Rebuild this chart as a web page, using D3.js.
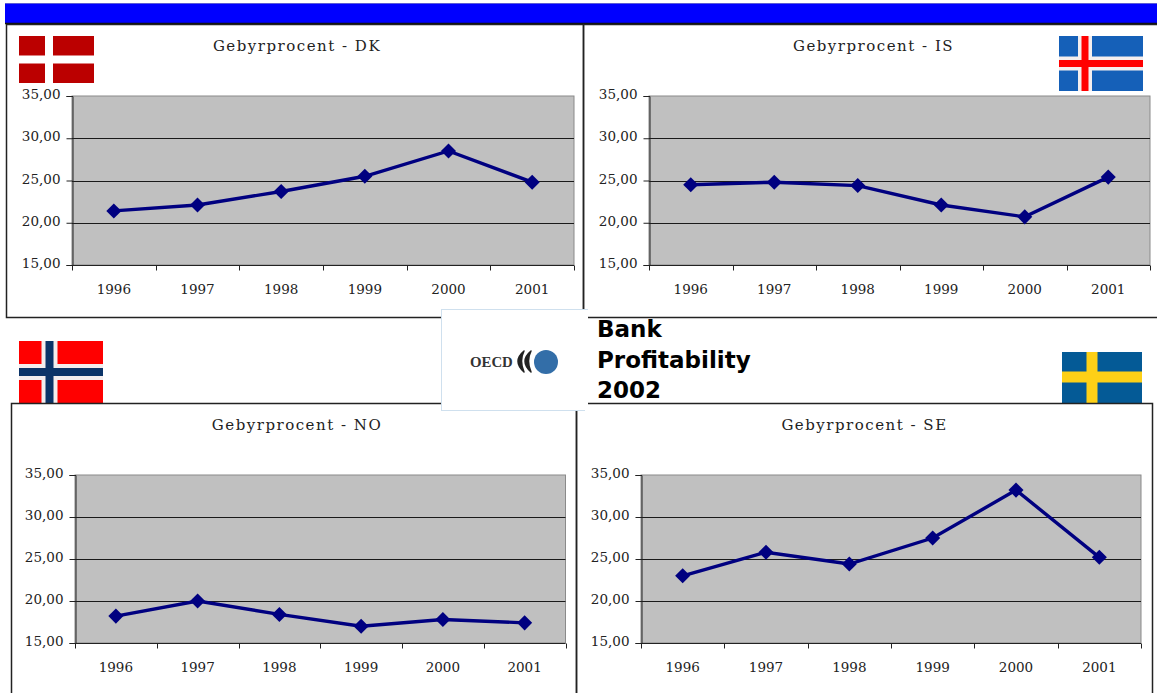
<!DOCTYPE html>
<html>
<head>
<meta charset="utf-8">
<script src="https://cdn.jsdelivr.net/npm/d3@7/dist/d3.min.js"></script>
<style>
html,body{margin:0;padding:0;background:#fff;overflow:hidden}
svg{display:block}
text{font-family:"DejaVu Serif",serif;fill:#222}
</style>
</head>
<body>
<svg id="slide" width="1157" height="693"></svg>
<script>
const years = ["1996","1997","1998","1999","2000","2001"];
const yTicks = [15,20,25,30,35];
const feeDK = [21.4,22.1,23.7,25.5,28.5,24.8];
const feeIS = [24.5,24.8,24.4,22.1,20.7,25.4];
const feeNO = [18.2,20.0,18.4,17.0,17.8,17.4];
const feeSE = [23.0,25.8,24.4,27.5,33.2,25.2];
const titleLines = ["Bank","Profitability","2002"];

const svg = d3.select("#slide");
const fmt = v => d3.format(".2f")(v).replace(".", ",");

// Header band
svg.append("rect").attr("x",5).attr("y",3).attr("width",1152).attr("height",20).attr("fill","#0000ff");
svg.append("line").attr("x1",5).attr("x2",1157).attr("y1",3.5).attr("y2",3.5).attr("stroke","#5a5ad8");
svg.append("line").attr("x1",5).attr("x2",1157).attr("y1",23.5).attr("y2",23.5).attr("stroke","#111").attr("stroke-width",1.5);

// Flags: field colour plus an optional outer and inner cross
function flag(o){
  const g = svg.append("g").attr("transform",`translate(${o.x},${o.y})`);
  g.append("rect").attr("width",o.w).attr("height",o.h).attr("fill",o.field);
  const bar = (col,t) => {
    g.append("rect").attr("x",o.cx-t/2).attr("y",0).attr("width",t).attr("height",o.h).attr("fill",col);
    g.append("rect").attr("x",0).attr("y",o.cy-t/2).attr("width",o.w).attr("height",t).attr("fill",col);
  };
  if(o.outer) bar(o.outer,o.outerT);
  bar(o.inner,o.innerT);
}
flag({x:19,y:36,w:75,h:47,field:"#bb0000",inner:"#fff",innerT:8,cx:30,cy:23.5});
flag({x:1059,y:36,w:84,h:55,field:"#1560b8",outer:"#f4eeee",outerT:14,inner:"#ff0000",innerT:7,cx:26,cy:27.5});
flag({x:19,y:341,w:84,h:62,field:"#ff0000",outer:"#f4eeee",outerT:16,inner:"#0c3468",innerT:8,cx:30.5,cy:31});
flag({x:1062,y:352,w:80,h:51,field:"#045a96",inner:"#fdd017",innerT:11,cx:30,cy:25});

// One chart panel: outlined box, title, plot area, axes and the fee line
function panel(p){
  svg.append("rect").attr("x",p.box[0]+.5).attr("y",p.box[1]+.5)
    .attr("width",p.box[2]-p.box[0]).attr("height",p.box[3]-p.box[1])
    .attr("fill","none").attr("stroke","#222").attr("stroke-width",1.5);
  svg.append("text").attr("x",p.titleX).attr("y",p.titleY).attr("text-anchor","middle")
    .attr("font-size",15).attr("letter-spacing",1.5).text(p.title);

  const x = d3.scaleBand().domain(years).range([p.plot[0],p.plot[1]]);
  const y = d3.scaleLinear().domain([15,35]).range([p.plot[3],p.plot[2]]);

  svg.append("rect").attr("x",p.plot[0]).attr("y",p.plot[2])
    .attr("width",p.plot[1]-p.plot[0]).attr("height",p.plot[3]-p.plot[2])
    .attr("fill","#c0c0c0").attr("stroke","#8a8a8a");

  svg.append("g").selectAll("line").data(yTicks.slice(1,-1)).join("line")
    .attr("x1",p.plot[0]).attr("x2",p.plot[1])
    .attr("y1",d=>Math.round(y(d))+.5).attr("y2",d=>Math.round(y(d))+.5)
    .attr("stroke","#1a1a1a");

  const yAxis = svg.append("g").attr("transform",`translate(${p.plot[0]+.5},0)`)
    .call(d3.axisLeft(y).tickValues(yTicks).tickFormat(fmt).tickSize(6).tickPadding(6));
  yAxis.selectAll("text").attr("font-size",13.5).attr("dy","0.2em").attr("fill","#222");
  yAxis.selectAll("line,path").attr("stroke","#222");

  // Ticks sit on the category boundaries, labels on the category centres
  const xAxis = svg.append("g").attr("transform",`translate(0,${p.plot[3]+.5})`);
  xAxis.append("line").attr("x1",p.plot[0]).attr("x2",p.plot[1]).attr("stroke","#222");
  xAxis.selectAll("line.tick").data(years.concat("end")).join("line").attr("class","tick")
    .attr("x1",(d,i)=>Math.round(p.plot[0]+i*x.bandwidth())+.5)
    .attr("x2",(d,i)=>Math.round(p.plot[0]+i*x.bandwidth())+.5)
    .attr("y1",0).attr("y2",5).attr("stroke","#222");
  xAxis.selectAll("text").data(years).join("text")
    .attr("x",d=>x(d)+x.bandwidth()/2).attr("y",28).attr("text-anchor","middle")
    .attr("font-size",13.5).text(d=>d);

  const pts = years.map((yr,i)=>[x(yr)+x.bandwidth()/2,y(p.values[i])]);
  svg.append("path").attr("d",d3.line()(pts)).attr("fill","none")
    .attr("stroke","#000080").attr("stroke-width",3.4);
  svg.append("g").selectAll("path").data(pts).join("path")
    .attr("d",d3.symbol(d3.symbolDiamond2,145))
    .attr("transform",d=>`translate(${d[0]},${d[1]})`)
    .attr("fill","#000080");
}

panel({title:"Gebyrprocent - DK",values:feeDK,box:[6,24,583,317],plot:[72,574,96,265],titleX:297,titleY:51});
panel({title:"Gebyrprocent - IS",values:feeIS,box:[583,24,1170,317],plot:[649,1150,96,265],titleX:873.5,titleY:51});
panel({title:"Gebyrprocent - NO",values:feeNO,box:[11,403,576,720],plot:[75,565.5,475,643],titleX:297,titleY:430});
panel({title:"Gebyrprocent - SE",values:feeSE,box:[576,403,1152,720],plot:[641,1141,475,643],titleX:864.5,titleY:430});

// OECD logo card, laid over the panel borders
const logo = svg.append("g");
logo.append("rect").attr("x",441.5).attr("y",309.5).attr("width",146).attr("height",101)
  .attr("fill","#fff").attr("stroke","#cfe0ee");
logo.append("rect").attr("x",585).attr("y",310).attr("width",3).attr("height",101).attr("fill","#fff");
logo.append("text").attr("x",470).attr("y",366.5).attr("font-size",14.8).attr("font-weight","bold")
  .style("font-family","'Liberation Serif',serif").style("fill","#333").text("OECD");
logo.selectAll("path.chevron").data([524,531]).join("path").attr("class","chevron")
  .attr("d",d=>`M${d} 351 Q${d-12} 361 ${d} 372 Q${d-5} 361 ${d} 351Z`)
  .attr("fill","#222").attr("stroke","#222").attr("stroke-width",1.5).attr("stroke-linejoin","round");
logo.append("circle").attr("cx",546).attr("cy",362).attr("r",12).attr("fill","#336ea8");

// Presentation title
svg.append("g").selectAll("text").data(titleLines).join("text")
  .attr("x",597).attr("y",(d,i)=>337+i*30.5)
  .style("font-family","'DejaVu Sans',sans-serif").style("fill","#000")
  .attr("font-size",23).attr("font-weight","bold").text(d=>d);
</script>
</body>
</html>
